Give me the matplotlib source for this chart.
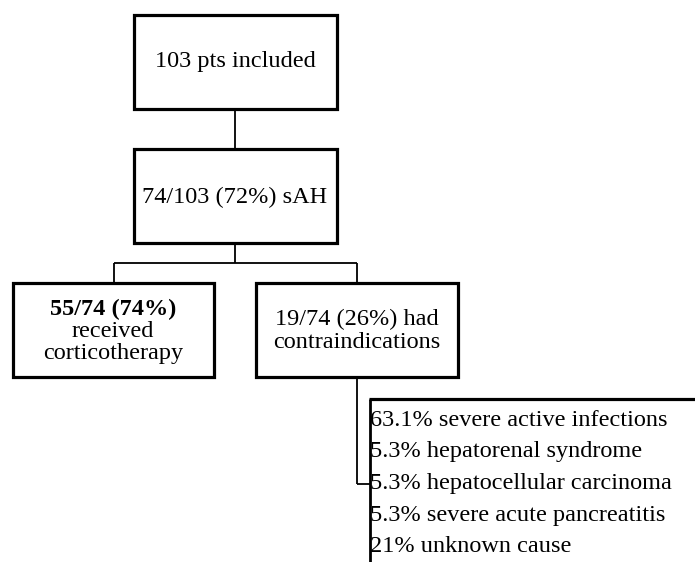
import matplotlib.pyplot as plt
from matplotlib.patches import Rectangle

plt.rcParams['font.family'] = ['Liberation Serif', 'DejaVu Serif']

# flowchart texts
top_label = '103 pts included'
sah_label = '74/103 (72%) sAH'
treated_bold = '55/74 (74%)'
treated_rest = ['received', 'corticotherapy']
contra_lines = ['19/74 (26%) had', 'contraindications']
causes = ['63.1% severe active infections',
          '5.3% hepatorenal syndrome',
          '5.3% hepatocellular carcinoma',
          '5.3% severe acute pancreatitis',
          '21% unknown cause']

W, H = 695, 562
fig = plt.figure(figsize=(W / 100, H / 100), dpi=100)
ax = fig.add_axes([0, 0, 1, 1])
ax.set_xlim(0, W)
ax.set_ylim(H, 0)
ax.axis('off')

FS = 17.5


def box(x0, y0, x1, y1, lw=2.3):
    ax.add_patch(Rectangle((x0, y0), x1 - x0, y1 - y0, fill=False,
                           edgecolor='black', linewidth=lw))


def line(xs, ys, lw=1.3):
    ax.plot(xs, ys, color='black', linewidth=lw, solid_capstyle='butt')


# boxes
box(134, 15, 337, 109)
box(134, 149, 337, 243)
box(13, 283, 214, 377)
box(256, 283, 458, 377)

# connectors
line([235, 235], [109, 149])
line([235, 235], [243, 263])
line([114, 357], [263, 263])
line([114, 114], [263, 283])
line([357, 357], [263, 283])
line([357, 357], [377, 484])
line([357, 370], [484, 484])

# list box (open at right and bottom)
line([370, 370], [399, H + 5], lw=2.0)
line([369, W + 5], [399, 399], lw=2.3)

ax.text(235, 67, top_label, ha='center', va='baseline', fontsize=FS)
ax.text(235, 203, sah_label, ha='center', va='baseline', fontsize=FS)

ax.text(113, 315, treated_bold, ha='center', va='baseline', fontsize=FS,
        fontweight='bold')
for i, t in enumerate(treated_rest):
    ax.text(113, 337 + i * 21.5, t, ha='center', va='baseline', fontsize=FS)

for i, t in enumerate(contra_lines):
    ax.text(357, 325 + i * 23, t, ha='center', va='baseline', fontsize=FS)

for i, t in enumerate(causes):
    ax.text(370, 426 + i * 31.5, t, ha='left', va='baseline', fontsize=FS)

fig.savefig('out.png', dpi=100)
